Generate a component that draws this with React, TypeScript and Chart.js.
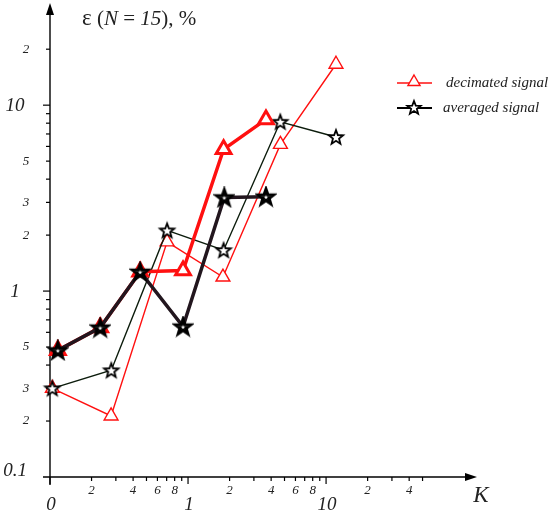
import { useEffect, useRef } from "react";
import { Chart, registerables } from "chart.js";

Chart.register(...registerables);

// ---- data (K, epsilon %) ----
const decThinK = [0.104, 0.277, 0.705, 1.79, 4.67, 11.8];
const decThinE = [0.3, 0.213, 1.84, 1.19, 6.15, 16.6];
const avgThinK = [0.104, 0.278, 0.705, 1.81, 4.66, 11.8];
const avgThinE = [0.3, 0.375, 2.12, 1.66, 8.14, 6.74];
const decThickK = [0.114, 0.231, 0.45, 0.92, 1.81, 3.67];
const decThickE = [0.48, 0.636, 1.27, 1.29, 5.79, 8.38];
const avgThickK = [0.114, 0.231, 0.45, 0.92, 1.83, 3.67];
const avgThickE = [0.48, 0.636, 1.27, 0.644, 3.19, 3.22];

// ---- ticks / labels ----
const xTickValues = [0.1, 0.2, 0.3, 0.4, 0.5, 0.6, 0.7, 0.8, 0.9, 1, 2, 3, 4, 5, 6, 7, 8, 9, 10, 20, 30, 40, 50];
const xMajorTicks = [0.1, 1, 10];
const xSmallLabelValues = [0.2, 0.4, 0.6, 0.8, 2, 4, 6, 8, 20, 40];
const xSmallLabelTexts = ["2", "4", "6", "8", "2", "4", "6", "8", "2", "4"];
const xBigLabelValues = [0.1, 1, 10];
const xBigLabelTexts = ["0", "1", "10"];

const yTickValues = [0.2, 0.3, 0.4, 0.5, 0.6, 0.7, 0.8, 0.9, 1, 2, 3, 4, 5, 6, 7, 8, 9, 10, 20];
const yMajorTicks = [1, 10];
const ySmallLabelValues = [0.2, 0.3, 0.5, 2, 3, 5, 20];
const ySmallLabelTexts = ["2", "3", "5", "2", "3", "5", "2"];
const yBigLabelValues = [0.1, 1, 10];
const yBigLabelTexts = ["0.1", "1", "10"];

const legendLabels = ["decimated signal", "averaged signal"];
const xAxisTitle = "K";

const RED = "#ff1010";
const BLACK_THIN = "#0c1c0c";
const BLACK_THICK = "#22161e";
const SERIF = '"Liberation Serif", "DejaVu Serif", serif';

function drawStar(ctx: CanvasRenderingContext2D, cx: number, cy: number, R: number, r: number, lw: number, color: string) {
  ctx.save();
  ctx.beginPath();
  for (let i = 0; i < 10; i++) {
    const rad = i % 2 === 0 ? R : r;
    const a = -Math.PI / 2 + (i * Math.PI) / 5;
    const px = cx + Math.cos(a) * rad;
    const py = cy + Math.sin(a) * rad;
    if (i === 0) ctx.moveTo(px, py);
    else ctx.lineTo(px, py);
  }
  ctx.closePath();
  ctx.fillStyle = "#ffffff";
  ctx.fill();
  ctx.lineWidth = lw;
  ctx.lineJoin = "miter";
  ctx.strokeStyle = color;
  ctx.stroke();
  ctx.restore();
}

function makeStar(size: number, R: number, r: number, lw: number, color: string) {
  const c = document.createElement("canvas");
  c.width = size;
  c.height = size;
  const ctx = c.getContext("2d")!;
  drawStar(ctx, size / 2, size / 2 + 0.6, R, r, lw, color);
  return c;
}

function drawTriangle(ctx: CanvasRenderingContext2D, cx: number, cy: number, rad: number, lw: number, color: string) {
  ctx.save();
  ctx.beginPath();
  for (let i = 0; i < 3; i++) {
    const a = -Math.PI / 2 + (i * 2 * Math.PI) / 3;
    const px = cx + Math.cos(a) * rad;
    const py = cy + Math.sin(a) * rad;
    if (i === 0) ctx.moveTo(px, py);
    else ctx.lineTo(px, py);
  }
  ctx.closePath();
  ctx.fillStyle = "#ffffff";
  ctx.fill();
  ctx.lineWidth = lw;
  ctx.strokeStyle = color;
  ctx.stroke();
  ctx.restore();
}

const toPoints = (xs: number[], ys: number[]) => xs.map((x, i) => ({ x, y: ys[i] }));

const axesPlugin = {
  id: "customAxes",
  beforeDatasetsDraw(chart: any) {
    const ctx: CanvasRenderingContext2D = chart.ctx;
    const xs = chart.scales.x;
    const ys = chart.scales.y;
    const x0 = xs.getPixelForValue(0.1);
    const y0 = ys.getPixelForValue(0.1);
    const right = chart.chartArea.right;
    ctx.save();
    ctx.strokeStyle = "#000";
    ctx.fillStyle = "#000";
    ctx.lineWidth = 1.4;
    // y axis
    ctx.beginPath();
    ctx.moveTo(x0, y0 + 8);
    ctx.lineTo(x0, 12);
    ctx.stroke();
    ctx.beginPath();
    ctx.moveTo(x0, 3);
    ctx.lineTo(x0 - 4, 15);
    ctx.lineTo(x0 + 4, 15);
    ctx.closePath();
    ctx.fill();
    // x axis
    ctx.beginPath();
    ctx.moveTo(x0 - 7, y0);
    ctx.lineTo(right - 8, y0);
    ctx.stroke();
    ctx.beginPath();
    ctx.moveTo(right, y0);
    ctx.lineTo(right - 12, y0 - 4);
    ctx.lineTo(right - 12, y0 + 4);
    ctx.closePath();
    ctx.fill();
    // x ticks
    ctx.lineWidth = 1.2;
    xTickValues.forEach((v) => {
      const px = xs.getPixelForValue(v);
      const len = xMajorTicks.includes(v) ? 7 : 4;
      ctx.beginPath();
      ctx.moveTo(px, y0);
      ctx.lineTo(px, y0 + len);
      ctx.stroke();
    });
    // y ticks
    yTickValues.forEach((v) => {
      const py = ys.getPixelForValue(v);
      const len = yMajorTicks.includes(v) ? 7 : 4;
      ctx.beginPath();
      ctx.moveTo(x0, py);
      ctx.lineTo(x0 - len, py);
      ctx.stroke();
    });
    ctx.restore();
  },
  afterDraw(chart: any) {
    const ctx: CanvasRenderingContext2D = chart.ctx;
    const xs = chart.scales.x;
    const ys = chart.scales.y;
    const y0 = ys.getPixelForValue(0.1);
    ctx.save();
    ctx.fillStyle = "#222";
    ctx.textAlign = "center";
    ctx.textBaseline = "middle";
    // x labels
    ctx.font = `italic 13px ${SERIF}`;
    xSmallLabelValues.forEach((v, i) => {
      ctx.fillText(xSmallLabelTexts[i], xs.getPixelForValue(v), y0 + 14);
    });
    ctx.font = `italic 19px ${SERIF}`;
    xBigLabelValues.forEach((v, i) => {
      ctx.fillText(xBigLabelTexts[i], xs.getPixelForValue(v) + 1, y0 + 28);
    });
    // y labels
    ctx.font = `italic 13px ${SERIF}`;
    ySmallLabelValues.forEach((v, i) => {
      ctx.fillText(ySmallLabelTexts[i], 26, ys.getPixelForValue(v));
    });
    ctx.font = `italic 19px ${SERIF}`;
    yBigLabelValues.forEach((v, i) => {
      const py = ys.getPixelForValue(v);
      ctx.fillText(yBigLabelTexts[i], 15, v === 0.1 ? py - 6 : py + 1);
    });
    // K title
    ctx.font = `italic 23px ${SERIF}`;
    ctx.textBaseline = "alphabetic";
    ctx.fillText(xAxisTitle, 481, 502);
    // y title: ε (N = 15), %
    const segs: [string, string][] = [
      ["ε", "normal"],
      [" (", "normal"],
      ["N", "italic"],
      [" = ", "normal"],
      ["15", "italic"],
      ["), %", "normal"],
    ];
    ctx.textAlign = "left";
    let tx = 82;
    segs.forEach(([t, st]) => {
      ctx.font = `${st} ${t === "ε" ? 23 : 21}px ${SERIF}`;
      ctx.fillText(t, tx, 25);
      tx += ctx.measureText(t).width;
    });
    // legend
    const lx1 = 397;
    const lx2 = 432;
    const ly = [83, 108];
    ctx.strokeStyle = RED;
    ctx.lineWidth = 1.3;
    ctx.beginPath();
    ctx.moveTo(lx1, ly[0]);
    ctx.lineTo(lx2, ly[0]);
    ctx.stroke();
    drawTriangle(ctx, 414, ly[0] - 1, 7, 1.4, RED);
    ctx.strokeStyle = "#000";
    ctx.lineWidth = 1.8;
    ctx.beginPath();
    ctx.moveTo(lx1, ly[1]);
    ctx.lineTo(lx2, ly[1]);
    ctx.stroke();
    drawStar(ctx, 414, ly[1], 7, 3, 1.8, "#000");
    ctx.fillStyle = "#222";
    ctx.font = `italic 15px ${SERIF}`;
    ctx.textBaseline = "middle";
    ctx.fillText(legendLabels[0], 446, ly[0]);
    ctx.fillText(legendLabels[1], 443, ly[1]);
    ctx.restore();
  },
};

export default function App() {
  const ref = useRef<HTMLCanvasElement | null>(null);
  useEffect(() => {
    if (!ref.current) return;
    const thinStar = makeStar(20, 7.5, 3.2, 1.8, "#000");
    const thickStar = makeStar(22, 7.5, 3.0, 3.4, "#000");
    const chart = new Chart(ref.current, {
      type: "scatter",
      data: {
        datasets: [
          {
            label: "averaged thick",
            data: toPoints(avgThickK, avgThickE),
            showLine: true,
            borderColor: BLACK_THICK,
            borderWidth: 3.5,
            pointStyle: thickStar as any,
            pointRadius: 8,
            clip: false as any,
          },
          {
            label: "decimated thick",
            data: toPoints(decThickK, decThickE),
            showLine: true,
            borderColor: RED,
            borderWidth: 3.5,
            pointStyle: "triangle",
            pointRadius: 8.5,
            pointBorderWidth: 3,
            pointBackgroundColor: "#fff",
            pointBorderColor: RED,
            clip: false as any,
          },
          {
            label: "averaged thin",
            data: toPoints(avgThinK, avgThinE),
            showLine: true,
            borderColor: BLACK_THIN,
            borderWidth: 1.4,
            pointStyle: thinStar as any,
            pointRadius: 8,
            clip: false as any,
          },
          {
            label: "decimated thin",
            data: toPoints(decThinK, decThinE),
            showLine: true,
            borderColor: RED,
            borderWidth: 1.4,
            pointStyle: "triangle",
            pointRadius: 8,
            pointBorderWidth: 1.4,
            pointBackgroundColor: "#fff",
            pointBorderColor: RED,
            clip: false as any,
          },
        ],
      },
      options: {
        animation: false,
        responsive: false,
        devicePixelRatio: window.devicePixelRatio || 1,
        layout: { padding: { left: 50, right: 73, top: 8, bottom: 41 } },
        plugins: { legend: { display: false }, tooltip: { enabled: false } },
        elements: { line: { tension: 0 } },
        scales: {
          x: { type: "logarithmic", min: 0.1, max: 124, display: false },
          y: { type: "logarithmic", min: 0.1, max: 31.9, display: false },
        },
      },
      plugins: [axesPlugin],
    });
    return () => chart.destroy();
  }, []);
  return (
    <div style={{ position: "absolute", left: 0, top: 0, width: 550, height: 518, background: "#fff" }}>
      <canvas ref={ref} width={550} height={518} style={{ width: 550, height: 518, display: "block" }} />
    </div>
  );
}
